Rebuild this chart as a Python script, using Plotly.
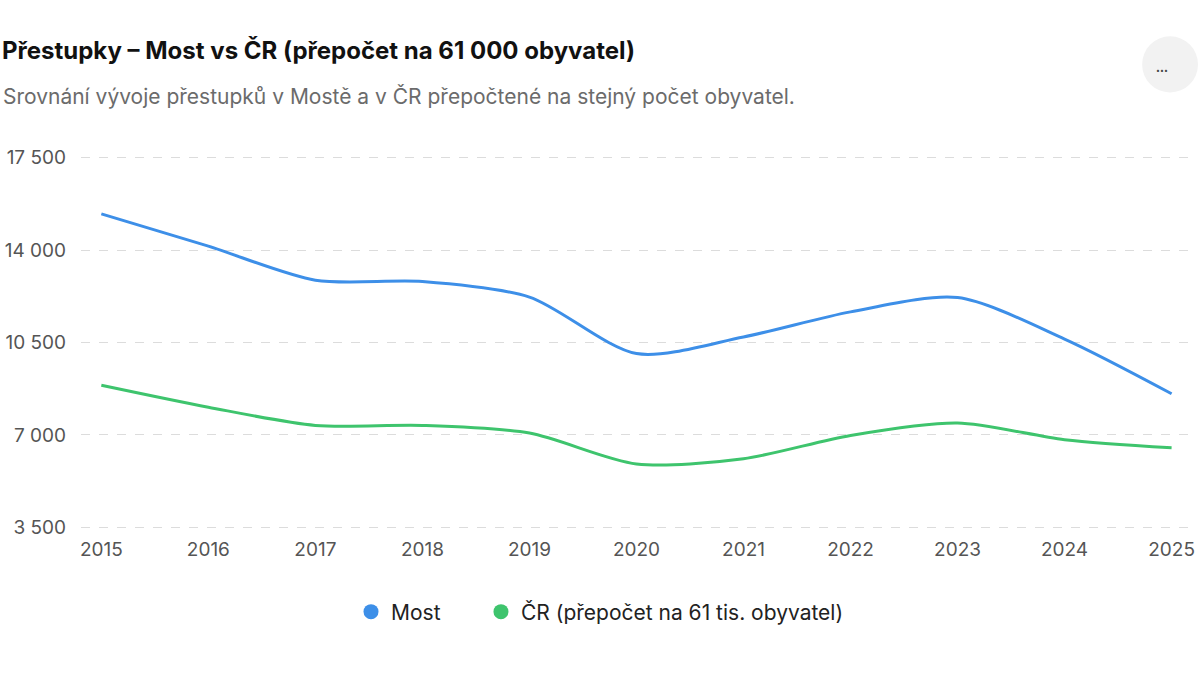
import plotly.graph_objects as go

# data
years = [2015, 2016, 2017, 2018, 2019, 2020, 2021, 2022, 2023, 2024, 2025]
most = [15370, 14150, 12860, 12810, 12220, 10080, 10710, 11660, 12200, 10630, 8560]
cr = [8880, 8050, 7360, 7360, 7070, 5900, 6100, 6980, 7450, 6820, 6510]

y_ticks = [3500, 7000, 10500, 14000, 17500]
y_tick_labels = ["3 500", "7 000", "10 500", "14 000", "17 500"]

blue = "#3d8fe8"
green = "#3ec46d"
font = "Inter, Roboto, sans-serif"

# plot area in pixels: x 80..1195, y 155..530 (range padded a bit so the
# outer dashed gridlines are drawn)
PL, PR, PT, PB = 80, 1195, 155.4, 529.6


def px_x(x):
    return (x - PL) / (PR - PL)


def px_y(y):
    return (PB - y) / (PB - PT)


fig = go.Figure()
fig.add_trace(go.Scatter(
    x=years, y=most, name="Most",
    mode="lines", line=dict(color=blue, width=3, shape="spline", smoothing=0.8),
    showlegend=False))
fig.add_trace(go.Scatter(
    x=years, y=cr, name="ČR (přepočet na 61 tis. obyvatel)",
    mode="lines", line=dict(color=green, width=3, shape="spline", smoothing=0.8),
    showlegend=False))

# legend entries drawn as dots
fig.add_trace(go.Scatter(
    x=[None], y=[None], name="Most" + "\u00a0" * 6, mode="markers",
    marker=dict(color=blue, size=15)))
fig.add_trace(go.Scatter(
    x=[None], y=[None], name="ČR (přepočet na 61 tis. obyvatel)", mode="markers",
    marker=dict(color=green, size=15)))

fig.update_layout(
    width=1200, height=675,
    paper_bgcolor="white", plot_bgcolor="white",
    font=dict(family=font, color="#222"),
    margin=dict(l=PL, r=1200 - PR, t=PT, b=675 - PB),
    title=dict(
        text="<b>Přestupky – Most vs ČR (přepočet na 61 000 obyvatel)</b>",
        xref="container", yref="container", x=0.0, xanchor="left",
        y=1 - 51 / 675, yanchor="middle", pad=dict(l=2),
        font=dict(size=24, color="#111", family=font)),
    legend=dict(
        orientation="h", xref="container", yref="container",
        x=0.5, xanchor="center", y=1 - 612 / 675, yanchor="middle",
        font=dict(size=21, color="#222"), itemwidth=30,
        tracegroupgap=0),
    hovermode=False)

fig.add_annotation(
    text="Srovnání vývoje přestupků v Mostě a v ČR přepočtené na stejný počet obyvatel.",
    xref="paper", yref="paper", x=px_x(0), xanchor="left",
    y=px_y(97), yanchor="middle", showarrow=False,
    font=dict(size=21, color="#6b6b6b", family=font))

# the "..." menu button in the corner
fig.add_shape(
    type="circle", xref="paper", yref="paper",
    x0=px_x(1144), x1=px_x(1200), y0=px_y(93), y1=px_y(37),
    fillcolor="#f2f2f2", line=dict(width=0))
fig.add_annotation(
    text="•••", xref="paper", yref="paper",
    x=px_x(1172), y=px_y(65), showarrow=False,
    font=dict(size=7, color="#444"))

fig.update_xaxes(
    range=[2014.81, 2025.2], tickvals=years, showgrid=False, zeroline=False,
    showline=False, ticks="", fixedrange=True, ticklabelstandoff=6,
    tickfont=dict(size=19, color="#555", family=font))
fig.update_yaxes(
    range=[3400, 17600], tickvals=y_ticks, ticktext=y_tick_labels,
    showgrid=True, gridcolor="#dcdcdc", griddash="dash", gridwidth=1,
    zeroline=False, showline=False, ticks="", ticklabelstandoff=14,
    fixedrange=True,
    tickfont=dict(size=19, color="#555", family=font))

fig.write_html("out.html", config={"displayModeBar": False},
               post_script="document.body.style.margin='0';")
